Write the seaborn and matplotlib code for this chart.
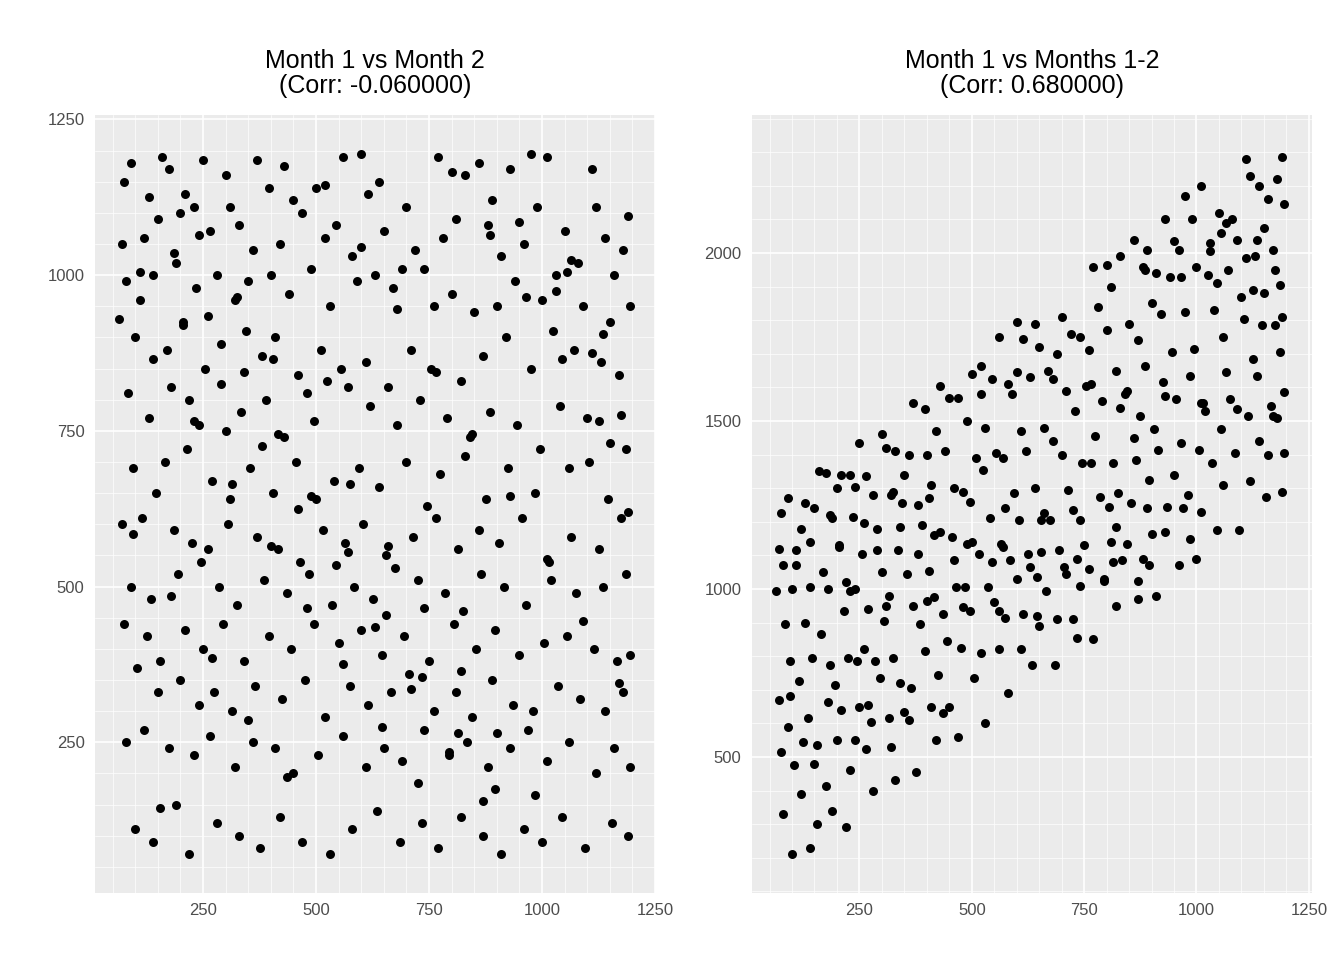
import numpy as np
import pandas as pd
import matplotlib.pyplot as plt
import seaborn as sns

sns.set_theme(style="darkgrid", rc={"axes.facecolor": "#EBEBEB", "grid.color": "white"})
plt.rcParams["font.family"] = ["Liberation Sans", "DejaVu Sans"]

# ============================================================
# Data (month 1, month 2 sales)
# ============================================================

month1 = [
    75, 90, 160, 175, 210, 250, 300, 310, 370, 395, 430, 450, 500, 560, 600, 615, 640, 700, 770, 830, 860, 890, 930, 990, 1010, 1110, 1120, 1190,
    70, 120, 150, 200, 230, 265, 330, 360, 420, 470, 520, 545, 580, 650, 690, 720, 780, 810, 880, 910, 960, 1050, 1080, 1140, 1180,
    80, 110, 140, 190, 235, 280, 320, 350, 400, 440, 490, 530, 590, 630, 670, 740, 760, 800, 850, 900, 940, 1000, 1030, 1090, 1160, 1195,
    65, 100, 170, 205, 255, 290, 345, 380, 410, 460, 510, 555, 610, 660, 710, 755, 820, 870, 920, 975, 1025, 1070, 1130, 1170,
    85, 130, 180, 220, 240, 300, 335, 390, 430, 480, 525, 570, 620, 680, 730, 790, 840, 885, 945, 995, 1040, 1100, 1150, 1185,
    95, 145, 165, 215, 270, 310, 355, 405, 455, 500, 540, 595, 640, 700, 745, 775, 830, 875, 925, 985, 1060, 1105, 1145, 1190,
    70, 115, 185, 225, 260, 305, 370, 415, 465, 515, 565, 605, 655, 715, 765, 815, 860, 905, 955, 1015, 1065, 1125, 1175,
    90, 135, 195, 245, 285, 325, 385, 435, 485, 535, 585, 625, 675, 725, 785, 825, 865, 915, 965, 1020, 1075, 1135, 1185,
    75, 125, 155, 210, 250, 295, 340, 395, 445, 495, 550, 600, 645, 695, 750, 805, 855, 895, 950, 1005, 1055, 1115, 1165, 1195,
    105, 150, 200, 240, 275, 315, 365, 425, 475, 520, 575, 615, 665, 705, 760, 810, 845, 890, 935, 980, 1035, 1085, 1140, 1180,
    80, 120, 175, 230, 265, 320, 360, 410, 450, 505, 560, 610, 650, 690, 740, 795, 835, 880, 930, 970, 1010, 1060, 1120, 1160, 1195,
    100, 140, 190, 220, 280, 330, 375, 420, 470, 530, 580, 635, 685, 735, 770, 820, 870, 910, 960, 1000, 1045, 1095, 1155, 1190,
    130, 185, 260, 340, 415, 490, 570, 655, 735, 815, 895, 975, 1055, 1135,
    110, 205, 290, 380, 460, 545, 630, 710, 795, 870, 950, 1030, 1110, 1175,
    140, 230, 315, 400, 480, 560, 645, 725, 800, 885, 965, 1045, 1125,
    95, 180, 270, 350, 435, 520, 600, 680, 765, 845, 930, 1010, 1090, 1170,
    155, 240, 325, 405, 495, 575, 660, 740, 820, 900, 985, 1065, 1150,
]
month2 = [
    1150, 1180, 1190, 1170, 1130, 1185, 1160, 1110, 1185, 1140, 1175, 1120, 1140, 1190, 1195, 1130, 1150, 1110, 1190, 1160, 1180, 1120, 1170, 1110, 1190, 1170, 1110, 1095,
    1050, 1060, 1090, 1100, 1110, 1070, 1080, 1040, 1050, 1100, 1060, 1080, 1030, 1070, 1010, 1040, 1060, 1090, 1080, 1030, 1050, 1070, 1020, 1060, 1040,
    990, 960, 1000, 1020, 980, 1000, 960, 990, 1000, 970, 1010, 950, 990, 1000, 980, 1010, 950, 970, 940, 950, 990, 960, 1000, 950, 1000, 950,
    930, 900, 880, 920, 850, 890, 910, 870, 900, 840, 880, 850, 860, 820, 880, 850, 830, 870, 900, 850, 910, 880, 860, 840,
    810, 770, 820, 800, 760, 750, 780, 800, 740, 810, 830, 820, 790, 760, 800, 770, 740, 780, 760, 720, 790, 770, 730, 720,
    690, 650, 700, 720, 670, 640, 690, 650, 700, 640, 670, 690, 660, 700, 630, 680, 710, 640, 690, 650, 690, 700, 640, 620,
    600, 610, 590, 570, 560, 600, 580, 560, 540, 590, 570, 600, 550, 580, 610, 560, 590, 570, 610, 540, 580, 560, 610,
    500, 480, 520, 540, 500, 470, 510, 490, 520, 470, 500, 480, 530, 510, 490, 460, 520, 500, 470, 510, 490, 500, 520,
    440, 420, 380, 430, 400, 440, 380, 420, 400, 440, 410, 430, 390, 420, 380, 440, 400, 430, 390, 410, 420, 400, 380, 390,
    370, 330, 350, 310, 330, 300, 340, 320, 350, 290, 340, 310, 330, 360, 300, 330, 290, 350, 310, 300, 340, 320, 300, 330,
    250, 270, 240, 230, 260, 210, 250, 240, 200, 230, 260, 210, 240, 220, 270, 230, 250, 210, 240, 270, 220, 250, 200, 240, 210,
    110, 90, 150, 70, 120, 100, 80, 130, 90, 70, 110, 140, 90, 120, 80, 130, 100, 70, 110, 90, 130, 80, 120, 100,
    1125, 1035, 935, 845, 745, 645, 555, 455, 355, 265, 175, 1195, 1005, 905,
    1005, 925, 825, 725, 625, 535, 435, 335, 235, 155, 1085, 975, 875, 775,
    865, 765, 665, 565, 465, 375, 275, 185, 1165, 1065, 965, 865, 765,
    585, 485, 385, 285, 195, 1145, 1045, 945, 845, 745, 645, 545, 445, 345,
    145, 1065, 965, 865, 765, 665, 565, 465, 365, 265, 165, 1025, 925,
]

df = pd.DataFrame({"month1": month1, "month2": month2})
df["months12"] = df["month1"] + df["month2"]
corr_a = -0.06
corr_b = 0.68

fig = plt.figure(figsize=(13.44, 9.6), dpi=100)
ax1 = fig.add_axes([95 / 1344, 67 / 960, 560 / 1344, 778 / 960])
ax2 = fig.add_axes([752 / 1344, 67 / 960, 560 / 1344, 778 / 960])

for ax, ycol, title in [
    (ax1, "month2", f"Month 1 vs Month 2\n(Corr: {corr_a:.6f})"),
    (ax2, "months12", f"Month 1 vs Months 1-2\n(Corr: {corr_b:.6f})"),
]:
    sns.scatterplot(data=df, x="month1", y=ycol, ax=ax, color="black", s=42, linewidth=0)
    ax.set_xlabel("")
    ax.set_ylabel("")
    ax.set_title(title, fontsize=18, pad=16, color="black", linespacing=1.05)
    ax.tick_params(colors="#4D4D4D", labelsize=12, length=4, width=1, color="#333333")
    ax.grid(True, which="major", color="white", linewidth=1.2)
    ax.minorticks_on()
    ax.grid(True, which="minor", color="white", linewidth=0.5)
    ax.tick_params(which="minor", length=0)
    for sp in ax.spines.values():
        sp.set_visible(False)
    ax.set_xticks([250, 500, 750, 1000, 1250])
    ax.set_xlim(11, 1250)

ax1.set_yticks([250, 500, 750, 1000, 1250])
ax1.set_ylim(8, 1257)
ax2.set_yticks([500, 1000, 1500, 2000])
ax2.set_ylim(95, 2411)
ax2.set_xlim(11, 1257)

fig.savefig("out.png", dpi=100, facecolor="white")
